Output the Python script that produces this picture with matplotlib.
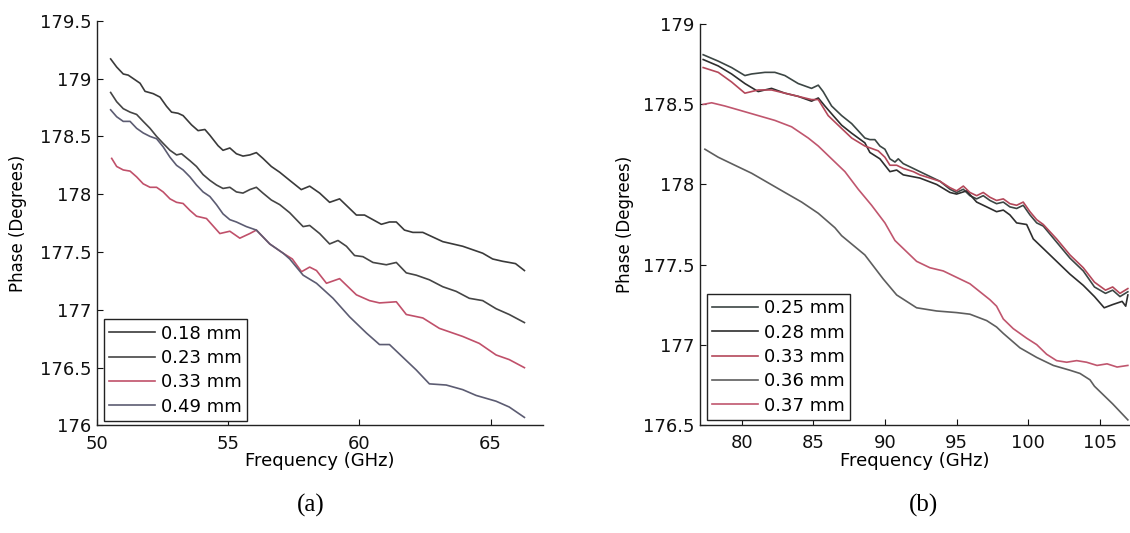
import matplotlib
matplotlib.use("Agg")
from matplotlib import pyplot as plt
from matplotlib.ticker import FormatStrFormatter

# ---- panel (a): 50-66 GHz ----
f18 = [50.53, 50.76, 51.01, 51.20, 51.65, 51.84, 52.15, 52.41, 52.66, 52.85, 53.10, 53.29, 53.61,
       53.86, 54.12, 54.31, 54.62, 54.81, 55.07, 55.32, 55.57, 55.83, 56.08, 56.33, 56.65, 56.97,
       57.35, 57.79, 58.11, 58.49, 58.87, 59.25, 59.57, 59.89, 60.20, 60.52, 60.84, 61.15, 61.41,
       61.72, 62.04, 62.42, 62.80, 63.18, 63.56, 63.94, 64.32, 64.70, 65.08, 65.46, 65.71, 65.95, 66.29]
p18 = [179.17, 179.10, 179.04, 179.03, 178.96, 178.89, 178.87, 178.84, 178.76, 178.71, 178.70, 178.68, 178.60,
       178.55, 178.56, 178.51, 178.42, 178.38, 178.40, 178.35, 178.33, 178.34, 178.36, 178.31, 178.24, 178.19,
       178.12, 178.04, 178.07, 178.01, 177.93, 177.96, 177.89, 177.82, 177.82, 177.78, 177.74, 177.76, 177.76,
       177.69, 177.67, 177.67, 177.63, 177.59, 177.57, 177.55, 177.52, 177.49, 177.44, 177.42, 177.41, 177.40, 177.34]

f23 = [50.53, 50.76, 51.01, 51.27, 51.52, 51.77, 52.03, 52.28, 52.53, 52.79, 53.04, 53.23, 53.55, 53.80,
       54.05, 54.31, 54.56, 54.81, 55.07, 55.32, 55.57, 55.83, 56.08, 56.33, 56.65, 56.97, 57.35, 57.86,
       58.11, 58.49, 58.87, 59.19, 59.51, 59.82, 60.14, 60.52, 61.03, 61.41, 61.79, 62.17, 62.67, 63.18,
       63.69, 64.19, 64.70, 65.21, 65.71, 66.29]
p23 = [178.88, 178.80, 178.74, 178.71, 178.69, 178.63, 178.57, 178.50, 178.44, 178.38, 178.34, 178.35, 178.29, 178.24,
       178.17, 178.12, 178.08, 178.05, 178.06, 178.02, 178.01, 178.04, 178.06, 178.01, 177.95, 177.91, 177.84, 177.72,
       177.73, 177.66, 177.57, 177.60, 177.55, 177.47, 177.46, 177.41, 177.39, 177.41, 177.32, 177.30, 177.26, 177.20,
       177.16, 177.10, 177.08, 177.01, 176.96, 176.89]

f33 = [50.57, 50.76, 51.01, 51.27, 51.52, 51.77, 52.03, 52.28, 52.53, 52.79, 53.04, 53.29, 53.55, 53.80,
       54.18, 54.69, 55.07, 55.45, 55.83, 56.08, 56.59, 57.10, 57.45, 57.80, 58.11, 58.37, 58.75, 59.25,
       59.89, 60.39, 60.77, 61.41, 61.79, 62.42, 63.05, 63.94, 64.57, 65.21, 65.71, 66.29]
p33 = [178.31, 178.24, 178.21, 178.20, 178.15, 178.09, 178.06, 178.06, 178.02, 177.96, 177.93, 177.92, 177.86, 177.81,
       177.79, 177.66, 177.68, 177.62, 177.66, 177.69, 177.57, 177.49, 177.44, 177.33, 177.37, 177.34, 177.23, 177.27,
       177.13, 177.08, 177.06, 177.07, 176.96, 176.93, 176.84, 176.77, 176.71, 176.61, 176.57, 176.50]

f49 = [50.53, 50.76, 51.01, 51.27, 51.52, 51.77, 52.03, 52.28, 52.53, 52.79, 53.04, 53.29, 53.55, 53.80,
       54.05, 54.31, 54.56, 54.81, 55.07, 55.32, 55.70, 56.08, 56.59, 57.10, 57.35, 57.86, 58.37, 59.00,
       59.63, 60.27, 60.77, 61.15, 61.66, 62.17, 62.67, 63.31, 63.94, 64.45, 65.21, 65.71, 66.29]
p49 = [178.73, 178.67, 178.63, 178.63, 178.57, 178.53, 178.50, 178.48, 178.41, 178.32, 178.25, 178.21, 178.15, 178.08,
       178.02, 177.98, 177.91, 177.83, 177.78, 177.76, 177.72, 177.69, 177.57, 177.49, 177.44, 177.30, 177.23, 177.10,
       176.94, 176.80, 176.70, 176.70, 176.59, 176.48, 176.36, 176.35, 176.31, 176.26, 176.21, 176.16, 176.07]

labels_a = ["0.18 mm", "0.23 mm", "0.33 mm", "0.49 mm"]
colors_a = ["#3a3a3a", "#454545", "#c0506a", "#5c5c72"]

# ---- panel (b): 77-107 GHz ----
f25 = [77.32, 78.37, 79.30, 80.23, 80.70, 81.63, 82.32, 83.02, 83.95, 84.88, 85.35, 85.69, 86.28, 86.98,
       87.68, 88.60, 88.95, 89.30, 89.65, 90.00, 90.35, 90.70, 90.93, 91.28, 91.98, 92.44, 93.14, 93.84,
       94.54, 95.00, 95.47, 95.93, 96.40, 96.86, 97.33, 97.79, 98.26, 98.72, 99.19, 99.65, 100.12, 100.59,
       101.05, 101.98, 102.91, 103.84, 104.62, 105.39, 105.89, 106.40, 106.95]
p25 = [178.81, 178.77, 178.73, 178.68, 178.69, 178.70, 178.70, 178.68, 178.63, 178.60, 178.62, 178.58, 178.49, 178.43,
       178.38, 178.29, 178.28, 178.28, 178.24, 178.22, 178.16, 178.14, 178.16, 178.13, 178.10, 178.08, 178.05, 178.02,
       177.97, 177.95, 177.97, 177.93, 177.91, 177.93, 177.90, 177.88, 177.89, 177.86, 177.85, 177.87, 177.81, 177.76,
       177.74, 177.64, 177.54, 177.46, 177.36, 177.32, 177.34, 177.30, 177.33]

f28 = [77.32, 78.37, 79.30, 80.23, 81.16, 82.09, 83.02, 83.95, 84.88, 85.35, 85.81, 86.39, 86.98, 87.68,
       88.60, 88.95, 89.65, 90.35, 90.82, 91.28, 92.44, 93.61, 94.54, 95.00, 95.70, 96.40, 97.10, 97.79,
       98.26, 98.72, 99.19, 99.89, 100.35, 101.05, 101.98, 102.91, 103.84, 104.62, 105.30, 105.89, 106.55,
       106.80, 106.95]
p28 = [178.78, 178.74, 178.69, 178.63, 178.58, 178.60, 178.57, 178.55, 178.52, 178.54, 178.49, 178.43, 178.37, 178.32,
       178.26, 178.20, 178.16, 178.08, 178.09, 178.06, 178.04, 178.00, 177.95, 177.94, 177.96, 177.89, 177.86, 177.83,
       177.84, 177.81, 177.76, 177.75, 177.66, 177.60, 177.52, 177.44, 177.37, 177.30, 177.23, 177.25, 177.27,
       177.24, 177.31]

f33b = [77.32, 78.37, 79.30, 80.23, 81.16, 82.09, 83.02, 83.95, 84.88, 85.35, 86.04, 86.74, 87.68, 88.60,
        89.53, 90.00, 90.35, 90.82, 91.28, 91.98, 92.44, 93.14, 93.84, 94.54, 95.00, 95.47, 95.93, 96.40,
        96.86, 97.33, 97.79, 98.26, 98.72, 99.19, 99.65, 100.12, 100.59, 101.05, 101.98, 102.91, 103.84,
        104.62, 105.39, 105.89, 106.40, 106.95]
p33b = [178.73, 178.70, 178.64, 178.57, 178.59, 178.59, 178.57, 178.55, 178.53, 178.53, 178.43, 178.37, 178.29, 178.24,
        178.21, 178.17, 178.12, 178.12, 178.10, 178.08, 178.06, 178.04, 178.02, 177.98, 177.96, 177.99, 177.95, 177.93,
        177.95, 177.92, 177.90, 177.91, 177.88, 177.87, 177.89, 177.83, 177.78, 177.75, 177.66, 177.56, 177.48,
        177.39, 177.34, 177.36, 177.32, 177.35]

f36 = [77.44, 78.37, 79.53, 80.70, 81.86, 83.02, 84.19, 85.35, 86.51, 86.98, 88.60, 89.88, 90.82, 92.21,
       93.61, 95.00, 95.93, 97.10, 97.79, 98.26, 99.42, 100.59, 101.75, 102.91, 103.61, 104.31, 104.62,
       105.89, 106.95]
p36 = [178.22, 178.17, 178.12, 178.07, 178.01, 177.95, 177.89, 177.82, 177.73, 177.68, 177.56, 177.41, 177.31, 177.23,
       177.21, 177.20, 177.19, 177.15, 177.11, 177.07, 176.98, 176.92, 176.87, 176.84, 176.82, 176.78, 176.74,
       176.63, 176.53]

f37 = [77.32, 77.91, 78.83, 80.00, 81.16, 82.32, 83.49, 84.65, 85.35, 86.28, 87.21, 88.14, 89.07, 90.00,
       90.70, 91.28, 92.21, 93.14, 94.07, 95.00, 95.93, 96.63, 97.33, 97.79, 98.26, 98.95, 99.89, 100.59,
       101.28, 101.98, 102.68, 103.38, 104.07, 104.80, 105.50, 106.20, 106.95]
p37 = [178.50, 178.51, 178.49, 178.46, 178.43, 178.40, 178.36, 178.29, 178.24, 178.16, 178.08, 177.97, 177.87, 177.76,
       177.65, 177.60, 177.52, 177.48, 177.46, 177.42, 177.38, 177.33, 177.28, 177.24, 177.16, 177.10, 177.04, 177.00,
       176.94, 176.90, 176.89, 176.90, 176.89, 176.87, 176.88, 176.86, 176.87]

labels_b = ["0.25 mm", "0.28 mm", "0.33 mm", "0.36 mm", "0.37 mm"]
colors_b = ["#3c4644", "#2e2e2e", "#b4485a", "#5e5e5e", "#c0566e"]

plt.rcParams['font.family'] = 'DejaVu Sans'

fig = plt.figure(figsize=(11.3, 5.33), dpi=100)
ax1 = fig.add_axes([0.0856, 0.2017, 0.3950, 0.7593])
ax2 = fig.add_axes([0.6195, 0.2032, 0.3805, 0.7512])


def style(ax, xlim, ylim, xticks, yticks, lab_x, lab_y):
    ax.set_xlim(xlim)
    ax.set_ylim(ylim)
    ax.set_xticks(xticks)
    ax.set_yticks(yticks)
    ax.yaxis.set_major_formatter(FormatStrFormatter('%g'))
    for s in ['top', 'right']:
        ax.spines[s].set_visible(False)
    for s in ['left', 'bottom']:
        ax.spines[s].set_linewidth(1.0)
        ax.spines[s].set_color('#222222')
    ax.tick_params(direction='in', length=4, width=0.8, labelsize=13, colors='#111111')
    ax.tick_params(axis='x', pad=7)
    ax.tick_params(axis='y', pad=4)
    ax.set_xlabel('Frequency (GHz)', fontsize=13)
    ax.set_ylabel('Phase (Degrees)', fontsize=12)
    ax.xaxis.label.set_va('center')
    ax.yaxis.label.set_va('center')
    ax.xaxis.set_label_coords(0.5, lab_x)
    ax.yaxis.set_label_coords(lab_y, 0.5)


for f, p, c, l in zip([f18, f23, f33, f49], [p18, p23, p33, p49], colors_a, labels_a):
    ax1.plot(f, p, color=c, lw=1.2, label=l)
style(ax1, (50, 67), (176, 179.5), [50, 55, 60, 65], [176 + 0.5 * i for i in range(8)], -0.0877, -0.176)

for f, p, c, l in zip([f25, f28, f33b, f36, f37], [p25, p28, p33b, p36, p37], colors_b, labels_b):
    ax2.plot(f, p, color=c, lw=1.2, label=l, clip_on=False)
style(ax2, (77.1, 107.1), (176.5, 179), [80, 85, 90, 95, 100, 105], [176.5, 177, 177.5, 178, 178.5, 179], -0.0907, -0.174)

for ax, anchor in [(ax1, (0.0155, 0.0111)), (ax2, (0.0156, 0.0117))]:
    leg = ax.legend(loc='lower left', bbox_to_anchor=anchor, borderaxespad=0, fontsize=13,
                    fancybox=False, framealpha=1, edgecolor='#222222', handlelength=2.55,
                    handletextpad=0.3, borderpad=0.3, labelspacing=0.35)
    leg.get_frame().set_linewidth(1.0)

fig.text(0.275, 0.0525, '(a)', fontsize=18, family='Liberation Serif', ha='center', va='center')
fig.text(0.817, 0.0525, '(b)', fontsize=18, family='Liberation Serif', ha='center', va='center')

fig.savefig('out.png', dpi=100)
